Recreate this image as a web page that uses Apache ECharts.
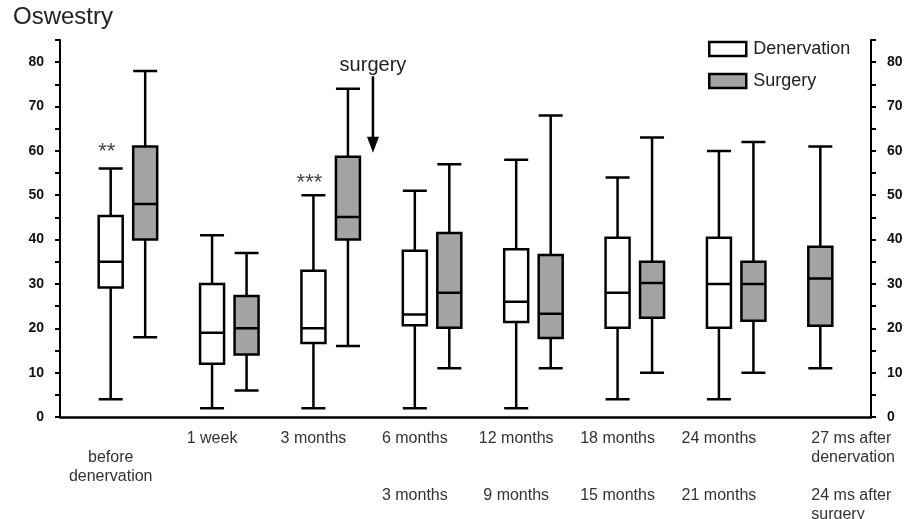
<!DOCTYPE html>
<html><head><meta charset="utf-8">
<script src="https://cdn.jsdelivr.net/npm/echarts@6/dist/echarts.min.js"></script>
<style>html,body{margin:0;padding:0;background:#fff}#c{width:913px;height:519px}</style>
</head><body><div id="c"></div>
<script>
// ---- data ----
const timeLabelsDenervation = ['before\ndenervation', '1 week', '3 months', '6 months', '12 months', '18 months', '24 months', '27 ms after\ndenervation'];
const timeLabelsSurgery = ['', '', '', '3 months', '9 months', '15 months', '21 months', '24 ms after\nsurgery'];
// [min, Q1, median, Q3, max]
const denervation = [
  [4, 29.2, 35, 45.3, 56],
  [2, 12, 19, 30, 41],
  [2, 16.7, 20, 33, 50],
  [2, 20.7, 23.1, 37.5, 51],
  [2, 21.4, 26, 37.8, 58],
  [4, 20.1, 28, 40.4, 54],
  [4, 20.1, 30, 40.4, 60],
  null
];
const surgery = [
  [18, 40, 48, 61, 78],
  [6, 14.1, 20, 27.3, 37],
  [16, 40, 45.1, 58.7, 74],
  [11, 20.1, 28, 41.5, 57],
  [11, 17.8, 23.3, 36.5, 68],
  [10, 22.4, 30.2, 35, 63],
  [10, 21.7, 30, 35, 62],
  [11, 20.6, 31.2, 38.4, 61]
];
const yTickLabels = [0, 10, 20, 30, 40, 50, 60, 70, 80];
const seriesNames = ['Denervation', 'Surgery'];
const significance = [{cat: 0, text: '**', value: 59.8}, {cat: 2, text: '***', value: 52.8}];

// ---- build ----
const EMPTY = ['-', '-', '-', '-', '-'];
const denData = denervation.map(v => v == null ? EMPTY : v);
// surgery boxes beside denervation; when no denervation box exists, surgery box takes its slot
const surgBeside = surgery.map((v, i) => denervation[i] == null ? EMPTY : v);
const surgInSlot = surgery.map((v, i) => denervation[i] == null ? v : EMPTY);
const cats = timeLabelsDenervation.map((_, i) => 'c' + i);

const WHITE = '#ffffff', GREY = '#a3a3a3';
const FONT = '"Liberation Sans", Arial, sans-serif';
const gridTop = 40, gridBottom = 102;

function catLabel(val, idx) {
  const a = timeLabelsDenervation[idx].split('\n');
  const b = timeLabelsSurgery[idx] ? timeLabelsSurgery[idx].split('\n') : [];
  let lines;
  if (a.length === 2 && b.length === 0) lines = [''].concat(a);
  else {
    lines = a.slice();
    if (b.length) { while (lines.length < 3) lines.push(''); lines = lines.concat(b); }
  }
  if (denervation[idx] == null) {
    return lines.map(l => '{s|' + (l || ' ') + '}').join('\n');
  }
  return lines.map(l => '{n|' + (l || ' ') + '}').join('\n');
}

const boxCommon = {
  type: 'boxplot',
  boxWidth: [24, 24],
  silent: true,
  animation: false,
  emphasis: {disabled: true}
};

const hiddenX = i => ({type: 'category', gridIndex: i, data: cats, show: false, boundaryGap: true});
const hiddenY = i => ({type: 'value', gridIndex: i, min: 0, max: 85, show: false});
const yAxisVisible = pos => ({
  type: 'value', gridIndex: 0, position: pos, min: 0, max: 85, interval: 5,
  axisLine: {show: true, lineStyle: {color: '#000', width: 2}},
  axisTick: {show: true, length: 5, lineStyle: {color: '#000', width: 2}},
  axisLabel: {
    margin: 16, fontFamily: FONT, fontSize: 14, fontWeight: 'bold', color: '#111',
    formatter: v => yTickLabels.indexOf(v) >= 0 ? String(v) : ''
  },
  splitLine: {show: false}
});
const gridBox = (left, right) => ({left: left, right: right, top: gridTop, bottom: gridBottom, containLabel: false, outerBoundsMode: 'none'});

const option = {
  animation: false,
  backgroundColor: '#ffffff',
  title: {
    text: 'Oswestry', left: 13, top: 5, padding: 0,
    textStyle: {fontFamily: FONT, fontSize: 24, fontWeight: 'normal', color: '#222'}
  },
  legend: {
    orient: 'vertical', left: 708, top: 40, padding: 0, itemWidth: 37, itemHeight: 14, itemGap: 14,
    icon: 'rect', selectedMode: false,
    textStyle: {fontFamily: FONT, fontSize: 18, color: '#222', padding: [0, 0, 0, 2]},
    data: [
      {name: seriesNames[0], itemStyle: {color: WHITE, borderColor: '#000', borderWidth: 2.5}},
      {name: seriesNames[1], itemStyle: {color: GREY, borderColor: '#000', borderWidth: 2.5}}
    ]
  },
  grid: [gridBox(60, 42), gridBox(94.5, 7.5), gridBox(60, 42)],
  xAxis: [
    {
      type: 'category', gridIndex: 0, data: cats, boundaryGap: true,
      axisLine: {lineStyle: {color: '#000', width: 2.5}},
      axisTick: {show: false},
      axisLabel: {
        interval: 0, margin: 12, fontFamily: FONT, fontSize: 16, color: '#333', lineHeight: 19,
        formatter: catLabel,
        rich: {
          n: {fontFamily: FONT, fontSize: 16, color: '#333', lineHeight: 19},
          s: {fontFamily: FONT, fontSize: 16, color: '#333', lineHeight: 19, width: 90, align: 'left', padding: [0, 0, 0, 72]}
        }
      },
      splitLine: {show: false}
    },
    hiddenX(1), hiddenX(2)
  ],
  yAxis: [yAxisVisible('left'), yAxisVisible('right'), hiddenY(1), hiddenY(2)],
  series: [
    Object.assign({}, boxCommon, {
      name: seriesNames[0], xAxisIndex: 0, yAxisIndex: 0, data: denData,
      itemStyle: {color: WHITE, borderColor: '#000', borderWidth: 2.5}
    }),
    Object.assign({}, boxCommon, {
      name: seriesNames[1], xAxisIndex: 1, yAxisIndex: 2, data: surgBeside,
      itemStyle: {color: GREY, borderColor: '#000', borderWidth: 2.5}
    }),
    Object.assign({}, boxCommon, {
      name: seriesNames[1], xAxisIndex: 2, yAxisIndex: 3, data: surgInSlot,
      itemStyle: {color: GREY, borderColor: '#000', borderWidth: 2.5}
    })
  ]
};

const chart = echarts.init(document.getElementById('c'), null, {renderer: 'canvas'});
chart.setOption(option);

// ---- annotations ----
const px = (cat, val) => chart.convertToPixel({gridIndex: 0}, [cats[cat], val]);
const elements = [];
significance.forEach(s => {
  const p = px(s.cat, s.value);
  elements.push({
    type: 'text', silent: true,
    style: {text: s.text, x: p[0] - 4, y: p[1], font: '22px ' + FONT, fill: '#444',
            textAlign: 'center', textVerticalAlign: 'middle', align: 'center', verticalAlign: 'middle'}
  });
});
// arrow marking the moment of surgery, between "3 months" and "6 months"
const a = px(2, 76.8), b = px(3, 59.6), t = px(2, 79.2);
const ax = a[0] + 0.587 * (b[0] - a[0]);
elements.push({
  type: 'line', silent: true,
  shape: {x1: ax, y1: a[1], x2: ax, y2: b[1] - 12},
  style: {stroke: '#000', lineWidth: 2.5}
});
elements.push({
  type: 'polygon', silent: true,
  shape: {points: [[ax - 6, b[1] - 16], [ax + 6, b[1] - 16], [ax, b[1]]]},
  style: {fill: '#000'}
});
elements.push({
  type: 'text', silent: true,
  style: {text: 'surgery', x: ax, y: t[1], font: '20px ' + FONT, fill: '#222',
          textAlign: 'center', textVerticalAlign: 'middle', align: 'center', verticalAlign: 'middle'}
});
chart.setOption({graphic: {elements: elements}});
</script>
</body></html>
